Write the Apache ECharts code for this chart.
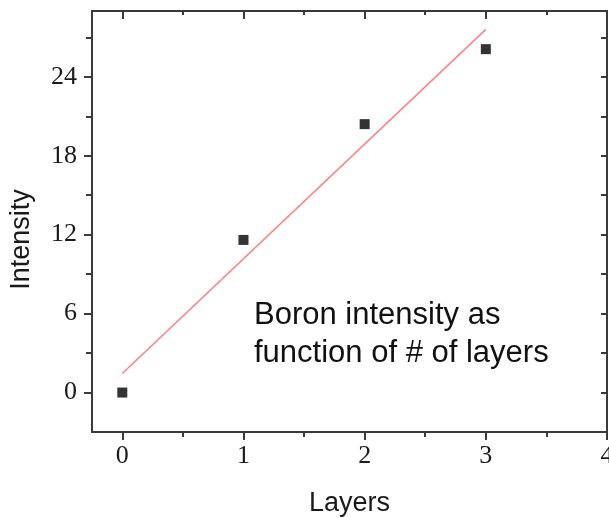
<!DOCTYPE html>
<html>
<head>
<meta charset="utf-8">
<script src="https://cdn.jsdelivr.net/npm/echarts@6/dist/echarts.min.js"></script>
<style>
  html, body { margin: 0; padding: 0; background: #fff; }
  #chart-container { width: 609px; height: 518px; }
</style>
</head>
<body>
<div id="chart-container"></div>
<script>
// measured points
const layers = [0, 1, 2, 3];
const intensity = [0, 11.6, 20.4, 26.1];
// linear fit line end points
const fitX = [0, 3];
const fitY = [1.45, 27.6];

const xMajorTicks = [0, 1, 2, 3, 4];
const xMinorTicks = [0.5, 1.5, 2.5, 3.5];
const yMajorTicks = [0, 6, 12, 18, 24];
const yMinorTicks = [3, 9, 15, 21, 27];

const noteText = "Boron intensity as\nfunction of # of layers";

const dom = document.getElementById("chart-container");
const myChart = echarts.init(dom, null, { renderer: "canvas" });

const axisColor = "#3a3a3a";
const labelFont = {
  fontFamily: "Liberation Serif",
  fontSize: 26,
  color: "#1a1a1a",
};

function tickAxis(base, values, length, inside, withLine) {
  return Object.assign(
    {
      type: "value",
      axisLine: {
        show: withLine,
        onZero: false,
        lineStyle: { color: axisColor, width: 2 },
      },
      axisTick: {
        show: true,
        inside: inside,
        length: length,
        customValues: values,
        lineStyle: { color: axisColor, width: 2 },
      },
      axisLabel: { show: false },
      splitLine: { show: false },
    },
    base
  );
}

const xRange = { min: -0.25, max: 4 };
const yRange = { min: -3, max: 29 };

const option = {
  backgroundColor: "#ffffff",
  animation: false,
  grid: { left: 92, top: 11, right: 2, bottom: 86, outerBoundsMode: "none", containLabel: false },
  xAxis: [
    Object.assign(tickAxis(Object.assign({ position: "bottom" }, xRange), xMajorTicks, 8, false, true), {
      name: "Layers",
      nameLocation: "middle",
      nameGap: 58,
      nameTextStyle: { fontFamily: "Liberation Sans", fontSize: 27, color: "#1a1a1a" },
      axisLabel: Object.assign({ show: true, margin: 11, customValues: xMajorTicks }, labelFont),
    }),
    tickAxis(Object.assign({ position: "bottom" }, xRange), xMinorTicks, 5, false, false),
    tickAxis(Object.assign({ position: "top" }, xRange), xMajorTicks, 8, true, true),
    tickAxis(Object.assign({ position: "top" }, xRange), xMinorTicks, 4, true, false),
  ],
  yAxis: [
    Object.assign(tickAxis(Object.assign({ position: "left" }, yRange), yMajorTicks, 8, false, true), {
      name: "Intensity",
      nameLocation: "middle",
      nameGap: 57,
      nameTextStyle: {
        fontFamily: "Liberation Sans",
        fontSize: 27,
        color: "#1a1a1a",
        padding: [0, 36, 0, 0],
      },
      axisLabel: Object.assign({ show: true, margin: 15, customValues: yMajorTicks }, labelFont),
    }),
    tickAxis(Object.assign({ position: "left" }, yRange), yMinorTicks, 6, false, false),
    tickAxis(Object.assign({ position: "right" }, yRange), yMajorTicks, 6, true, true),
    tickAxis(Object.assign({ position: "right" }, yRange), yMinorTicks, 6, true, false),
  ],
  series: [
    {
      name: "Fit",
      type: "line",
      showSymbol: false,
      symbol: "none",
      lineStyle: { color: "#ff7f7f", width: 1.5 },
      data: fitX.map((x, i) => [x, fitY[i]]),
      z: 2,
    },
    {
      name: "Boron",
      type: "scatter",
      symbol: "rect",
      symbolSize: 10,
      itemStyle: { color: "#000000" },
      data: layers.map((x, i) => [x, intensity[i]]),
      z: 3,
    },
  ],
  graphic: [
    {
      type: "text",
      left: 254,
      top: 296,
      style: {
        text: noteText,
        fontFamily: "Liberation Sans",
        fontSize: 31,
        lineHeight: 38,
        fill: "#111111",
      },
    },
  ],
};

myChart.setOption(option);
window.addEventListener("resize", myChart.resize);
</script>
</body>
</html>
